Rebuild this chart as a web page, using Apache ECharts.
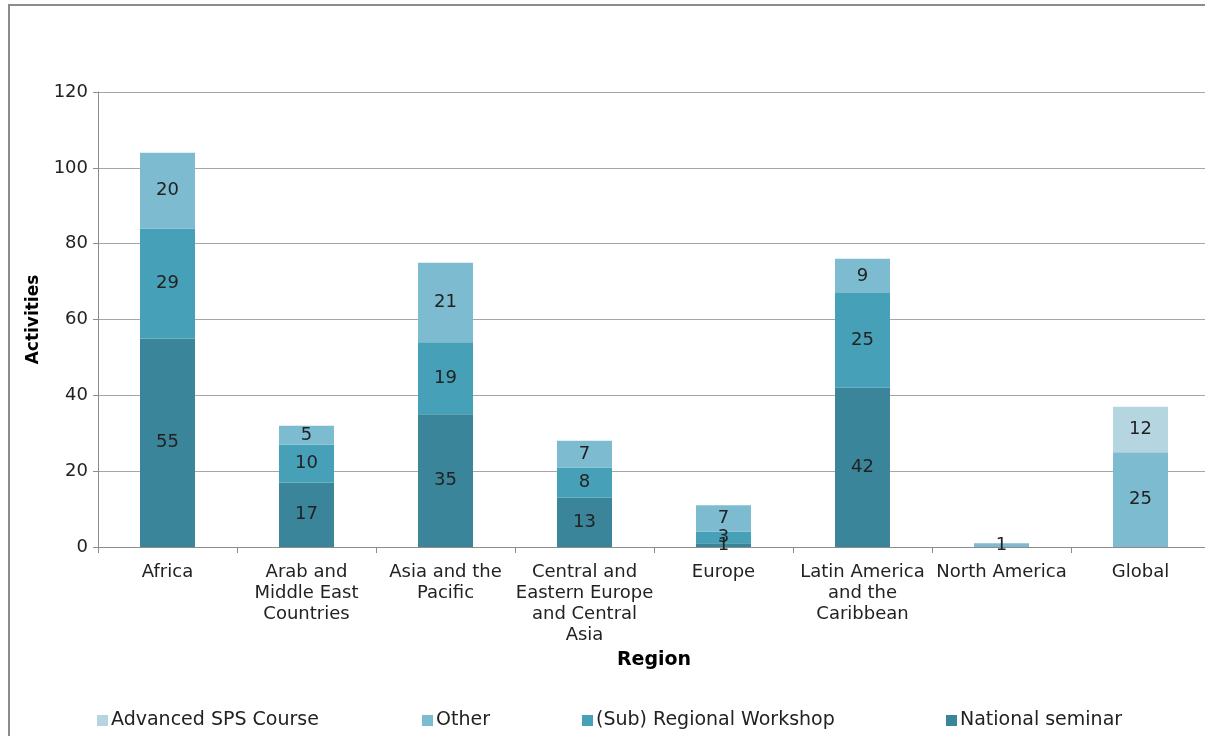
<!DOCTYPE html>
<html>
<head>
<meta charset="utf-8">
<script src="https://cdn.jsdelivr.net/npm/echarts@6/dist/echarts.min.js"></script>
<style>
  html, body { margin: 0; padding: 0; background: #fff; overflow: hidden; }
  #chart { width: 1210px; height: 736px; }
</style>
</head>
<body>
<div id="chart"></div>
<script>
// categories and tick labels (with the line breaks seen in the picture)
const regions = ["Africa", "Arab and Middle East Countries", "Asia and the Pacific",
  "Central and Eastern Europe and Central Asia", "Europe", "Latin America and the Caribbean",
  "North America", "Global"];
const regionLabels = ["Africa", "Arab and\nMiddle East\nCountries", "Asia and the\nPacific",
  "Central and\nEastern Europe\nand Central\nAsia", "Europe", "Latin America\nand the\nCaribbean",
  "North America", "Global"];

// series values (null = no segment)
const nationalSeminar = [55, 17, 35, 13, 1, 42, null, null];
const regionalWorkshop = [29, 10, 19, 8, 3, 25, null, null];
const other = [20, 5, 21, 7, 7, 9, 1, 25];
const advancedCourse = [null, null, null, null, null, null, null, 12];

const yTicks = [0, 20, 40, 60, 80, 100, 120];

// legend order as in the picture
const legendNames = ["Advanced SPS Course", "Other", "(Sub) Regional Workshop", "National seminar"];
const legendLeft = [92, 417, 577, 941];

const font = "DejaVu Sans, Verdana, sans-serif";
const colors = {
  national: "#3a8599",
  regional: "#46a1b8",
  other: "#7cbbd0",
  advanced: "#b5d6e0",
};

function barSeries(name, data, color) {
  return {
    name,
    type: "bar",
    stack: "total",
    data,
    barWidth: 55,
    itemStyle: { color },
    label: {
      show: true,
      position: "inside",
      color: "#222",
      fontFamily: font,
      fontSize: 18,
    },
  };
}

const chart = echarts.init(document.getElementById("chart"), null, { renderer: "canvas" });

chart.setOption({
  animation: false,
  backgroundColor: "#fff",
  textStyle: { fontFamily: font },
  graphic: [
    {
      type: "rect",
      shape: { x: 9, y: 5, width: 1220, height: 760 },
      style: { fill: "none", stroke: "#8c8c8c", lineWidth: 2 },
      z: 0,
    },
  ],
  // the plot runs a few pixels past the right edge of the window
  grid: { left: 98, top: 92, right: 0, bottom: 189 },
  legend: legendNames.map((name, i) => ({
    data: [name],
    left: legendLeft[i],
    top: 706,
    icon: "rect",
    itemWidth: 11,
    itemHeight: 11,
    itemGap: 0,
    textStyle: { fontFamily: font, fontSize: 19, color: "#222", padding: [0, 0, 0, -2] },
  })),
  xAxis: {
    type: "category",
    data: regions,
    name: "Region",
    nameLocation: "middle",
    nameGap: 104,
    nameTextStyle: { fontFamily: font, fontSize: 19, fontWeight: "bold", color: "#000" },
    axisLine: { lineStyle: { color: "#8c8c8c", width: 1 } },
    axisTick: { show: true, length: 6, lineStyle: { color: "#8c8c8c" } },
    axisLabel: {
      interval: 0,
      margin: 15,
      color: "#222",
      fontFamily: font,
      fontSize: 18,
      lineHeight: 21,
      formatter: (v, i) => regionLabels[i],
    },
  },
  yAxis: {
    type: "value",
    min: yTicks[0],
    max: yTicks[yTicks.length - 1],
    interval: 20,
    name: "Activities",
    nameLocation: "middle",
    nameGap: 56,
    nameTextStyle: { fontFamily: font, fontSize: 17, fontWeight: "bold", color: "#000" },
    axisLine: { show: true, lineStyle: { color: "#8c8c8c", width: 1 } },
    axisTick: { show: true, length: 5, lineStyle: { color: "#8c8c8c" } },
    axisLabel: { margin: 10, color: "#222", fontFamily: font, fontSize: 18 },
    splitLine: { lineStyle: { color: "#a6a6a6", width: 1 } },
  },
  series: [
    barSeries("National seminar", nationalSeminar, colors.national),
    barSeries("(Sub) Regional Workshop", regionalWorkshop, colors.regional),
    barSeries("Other", other, colors.other),
    barSeries("Advanced SPS Course", advancedCourse, colors.advanced),
  ],
});
</script>
</body>
</html>
